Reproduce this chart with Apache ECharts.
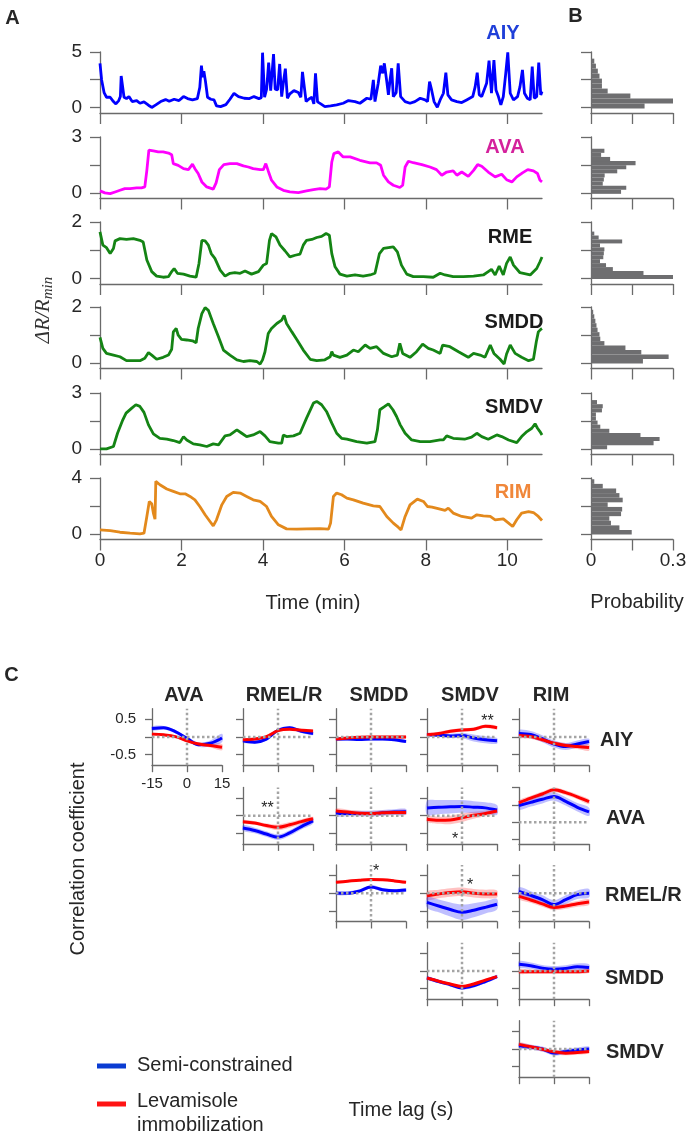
<!DOCTYPE html>
<html><head><meta charset="utf-8">
<script src="https://cdn.jsdelivr.net/npm/echarts@6/dist/echarts.min.js"></script>
<style>html,body{margin:0;padding:0;background:#fff}#c{width:693px;height:1135px}</style>
</head><body><div id="c"></div>
<script>
// ---------------- Panel A: calcium traces [time (min), ΔR/Rmin] ----------------
const traceAIY = [[0.00,3.98],[0.04,2.48],[0.10,1.34],[0.16,0.92],[0.25,0.92],[0.33,0.53],[0.39,0.32],[0.46,0.62],[0.50,0.98],[0.52,2.84],[0.56,2.72],[0.59,0.92],[0.65,0.80],[0.71,0.98],[0.79,0.53],[0.90,0.62],[0.98,0.38],[1.08,0.50],[1.19,0.20],[1.27,0.00],[1.37,0.23],[1.49,0.53],[1.61,0.71],[1.70,0.56],[1.82,0.74],[1.94,0.62],[2.05,0.98],[2.15,0.80],[2.27,0.68],[2.39,0.80],[2.45,1.82],[2.49,3.77],[2.52,2.72],[2.55,3.26],[2.59,2.33],[2.64,0.92],[2.72,0.74],[2.80,0.68],[2.86,0.14],[2.96,0.08],[3.09,0.26],[3.19,0.74],[3.29,1.28],[3.40,0.98],[3.54,0.83],[3.67,0.80],[3.78,0.98],[3.90,0.80],[3.96,0.89],[3.99,4.94],[4.04,0.92],[4.09,1.64],[4.14,4.04],[4.19,1.52],[4.26,4.82],[4.30,1.64],[4.36,1.58],[4.41,3.92],[4.46,0.98],[4.51,2.48],[4.55,3.50],[4.60,0.83],[4.66,1.22],[4.76,1.52],[4.87,1.34],[4.93,0.92],[4.97,3.20],[5.01,3.08],[5.06,0.53],[5.12,0.74],[5.20,0.92],[5.25,0.32],[5.29,3.08],[5.34,0.50],[5.42,0.32],[5.52,0.08],[5.66,0.14],[5.81,0.23],[5.97,0.38],[6.10,0.62],[6.26,0.53],[6.38,0.38],[6.55,0.83],[6.65,0.74],[6.71,2.48],[6.75,0.53],[6.83,2.18],[6.89,3.77],[6.94,3.08],[6.98,3.98],[7.04,2.33],[7.08,1.13],[7.12,2.48],[7.16,3.53],[7.20,0.98],[7.27,1.34],[7.32,3.98],[7.38,0.98],[7.49,0.53],[7.61,0.38],[7.73,0.53],[7.86,0.83],[7.98,0.68],[8.04,0.53],[8.09,2.33],[8.14,1.58],[8.20,0.53],[8.28,0.02],[8.35,0.68],[8.43,1.28],[8.49,3.14],[8.54,1.13],[8.63,0.68],[8.76,0.53],[8.88,0.44],[9.00,0.68],[9.15,0.98],[9.21,1.88],[9.26,3.14],[9.31,1.13],[9.37,0.98],[9.49,2.18],[9.55,4.22],[9.61,1.28],[9.67,4.28],[9.72,1.58],[9.78,0.98],[9.84,0.23],[9.90,0.98],[9.96,3.08],[10.01,4.97],[10.07,1.28],[10.15,0.68],[10.25,0.98],[10.31,1.88],[10.37,3.38],[10.42,1.28],[10.49,0.83],[10.56,0.68],[10.61,3.68],[10.66,0.83],[10.72,0.98],[10.77,4.04],[10.82,1.13],[10.85,1.43]];
const traceAVA = [[0.00,0.11],[0.12,0.00],[0.25,-0.04],[0.37,0.05],[0.49,0.14],[0.61,0.23],[0.74,0.23],[0.90,0.27],[1.02,0.27],[1.10,0.32],[1.15,1.21],[1.20,2.29],[1.31,2.25],[1.43,2.20],[1.55,2.20],[1.68,2.14],[1.76,2.05],[1.80,1.57],[1.92,1.48],[2.05,1.30],[2.17,1.25],[2.27,1.54],[2.33,1.30],[2.41,1.04],[2.50,0.59],[2.62,0.32],[2.78,0.20],[2.85,0.54],[2.93,1.25],[3.04,1.52],[3.19,1.57],[3.36,1.57],[3.52,1.45],[3.64,1.39],[3.76,1.30],[3.93,1.25],[4.01,1.25],[4.07,1.57],[4.13,1.18],[4.21,0.68],[4.34,0.32],[4.50,0.14],[4.66,0.05],[4.87,0.02],[5.07,0.11],[5.24,0.18],[5.40,0.23],[5.55,0.20],[5.63,0.32],[5.69,1.66],[5.74,2.11],[5.85,2.20],[5.97,1.93],[6.14,1.93],[6.38,1.75],[6.63,1.61],[6.79,1.61],[6.89,1.48],[6.96,0.95],[7.08,0.59],[7.20,0.41],[7.36,0.29],[7.43,0.41],[7.49,1.39],[7.57,1.70],[7.69,1.62],[7.90,1.52],[8.10,1.39],[8.26,1.25],[8.39,0.95],[8.51,1.12],[8.67,1.18],[8.76,0.95],[8.88,1.12],[9.04,0.89],[9.17,1.21],[9.27,1.52],[9.37,1.43],[9.53,1.12],[9.70,0.86],[9.86,1.00],[9.98,0.71],[10.11,0.59],[10.23,0.86],[10.38,1.09],[10.50,1.25],[10.64,1.18],[10.74,1.04],[10.80,0.68],[10.85,0.59]];
const traceRME = [[0.00,1.65],[0.07,1.18],[0.16,1.09],[0.25,0.88],[0.33,1.06],[0.37,1.33],[0.49,1.41],[0.65,1.38],[0.82,1.41],[0.98,1.35],[1.06,1.29],[1.15,0.65],[1.27,0.24],[1.39,0.08],[1.55,0.04],[1.68,0.06],[1.76,0.24],[1.82,0.35],[1.90,0.18],[2.05,0.15],[2.21,0.08],[2.36,0.04],[2.43,0.53],[2.50,1.35],[2.58,1.33],[2.66,1.18],[2.73,0.88],[2.82,0.71],[2.95,0.29],[3.07,0.08],[3.19,0.18],[3.31,0.20],[3.44,0.18],[3.56,0.26],[3.72,0.15],[3.89,0.24],[4.01,0.47],[4.09,0.53],[4.16,1.35],[4.21,1.59],[4.32,1.47],[4.42,1.18],[4.54,0.98],[4.66,0.76],[4.79,0.82],[4.91,0.86],[4.99,1.18],[5.07,1.35],[5.20,1.38],[5.32,1.45],[5.44,1.49],[5.55,1.59],[5.63,1.53],[5.69,0.88],[5.77,0.41],[5.89,0.15],[6.06,0.08],[6.26,0.12],[6.46,0.08],[6.63,0.12],[6.75,0.18],[6.86,0.88],[6.96,1.06],[7.08,1.09],[7.20,1.12],[7.30,0.94],[7.40,0.47],[7.53,0.15],[7.69,0.06],[7.94,0.06],[8.18,0.04],[8.35,0.18],[8.47,0.12],[8.67,0.06],[8.92,0.06],[9.17,0.08],[9.41,0.12],[9.53,0.24],[9.61,0.32],[9.70,0.12],[9.80,0.44],[9.90,0.12],[9.98,0.53],[10.07,0.76],[10.15,0.47],[10.31,0.20],[10.56,0.12],[10.72,0.35],[10.80,0.59],[10.85,0.76]];
const traceSMDD = [[0.00,0.91],[0.07,0.52],[0.16,0.34],[0.33,0.28],[0.49,0.22],[0.65,0.08],[0.82,0.08],[0.98,0.08],[1.10,0.17],[1.19,0.37],[1.27,0.28],[1.39,0.13],[1.55,0.20],[1.68,0.28],[1.76,0.49],[1.80,1.11],[1.87,1.23],[1.92,0.99],[2.00,0.84],[2.13,0.82],[2.27,0.79],[2.36,0.72],[2.41,1.23],[2.50,1.76],[2.58,1.98],[2.66,1.88],[2.78,1.41],[2.91,0.93],[3.03,0.46],[3.19,0.28],[3.36,0.11],[3.52,0.05],[3.68,0.08],[3.85,0.05],[3.93,-0.04],[3.99,0.11],[4.05,0.40],[4.13,1.05],[4.21,1.23],[4.34,1.41],[4.46,1.53],[4.52,1.70],[4.58,1.41],[4.71,1.11],[4.83,0.84],[4.99,0.46],[5.16,0.13],[5.32,0.08],[5.52,0.11],[5.65,0.22],[5.69,0.40],[5.73,0.28],[5.89,0.20],[6.06,0.28],[6.22,0.46],[6.34,0.40],[6.51,0.64],[6.63,0.52],[6.79,0.58],[6.96,0.34],[7.16,0.22],[7.30,0.28],[7.36,0.70],[7.43,0.34],[7.61,0.20],[7.77,0.40],[7.92,0.67],[8.06,0.52],[8.18,0.46],[8.35,0.34],[8.41,0.64],[8.59,0.58],[8.80,0.40],[9.04,0.20],[9.17,0.34],[9.33,0.28],[9.45,0.20],[9.58,0.64],[9.67,0.34],[9.82,0.13],[9.92,-0.04],[9.98,0.32],[10.07,0.64],[10.19,0.34],[10.35,0.20],[10.52,0.08],[10.64,0.13],[10.71,0.76],[10.76,1.11],[10.82,1.20],[10.85,1.23]];
const traceSMDV = [[0.00,0.00],[0.16,0.00],[0.33,0.13],[0.43,0.84],[0.56,1.56],[0.64,1.92],[0.78,2.19],[0.88,2.37],[0.98,2.28],[1.08,1.96],[1.19,1.29],[1.31,0.81],[1.47,0.57],[1.64,0.52],[1.80,0.45],[1.96,0.34],[2.05,0.66],[2.13,0.48],[2.29,0.27],[2.45,0.22],[2.62,0.13],[2.78,0.27],[2.91,0.22],[3.07,0.70],[3.19,0.75],[3.36,1.02],[3.48,0.84],[3.60,0.66],[3.76,0.75],[3.93,0.93],[4.05,0.70],[4.17,0.39],[4.38,0.31],[4.46,0.31],[4.50,0.75],[4.58,0.66],[4.75,0.70],[4.91,0.84],[5.07,1.65],[5.24,2.46],[5.32,2.55],[5.44,2.37],[5.56,2.01],[5.69,1.38],[5.81,0.84],[5.93,0.57],[6.06,0.52],[6.30,0.39],[6.55,0.31],[6.75,0.39],[6.81,1.02],[6.87,2.10],[6.99,2.28],[7.08,2.42],[7.19,2.10],[7.28,1.74],[7.37,1.29],[7.49,0.84],[7.65,0.48],[7.86,0.39],[8.10,0.39],[8.35,0.48],[8.43,0.48],[8.51,0.70],[8.67,0.57],[8.95,0.52],[9.12,0.63],[9.25,0.84],[9.37,0.66],[9.53,0.52],[9.74,0.75],[9.86,0.66],[10.03,0.48],[10.23,0.34],[10.35,0.66],[10.48,0.93],[10.60,1.11],[10.68,1.35],[10.74,1.11],[10.80,0.93],[10.85,0.75]];
const traceRIM = [[0.00,0.29],[0.25,0.24],[0.49,0.12],[0.74,0.05],[0.98,0.00],[1.08,0.05],[1.15,1.25],[1.21,2.32],[1.27,2.16],[1.31,1.49],[1.35,1.05],[1.37,3.76],[1.47,3.52],[1.64,3.21],[1.80,3.04],[1.96,2.87],[2.09,2.87],[2.21,2.68],[2.33,2.44],[2.45,1.96],[2.58,1.37],[2.70,0.89],[2.78,0.57],[2.86,1.01],[2.99,2.08],[3.11,2.68],[3.27,2.97],[3.44,2.92],[3.60,2.68],[3.76,2.44],[3.93,2.32],[4.09,1.96],[4.21,1.25],[4.38,0.65],[4.58,0.36],[4.83,0.34],[5.07,0.36],[5.40,0.38],[5.61,0.34],[5.66,0.77],[5.73,2.68],[5.81,2.92],[5.93,2.80],[6.06,2.56],[6.22,2.44],[6.46,2.20],[6.71,2.01],[6.87,1.96],[7.04,1.25],[7.20,0.77],[7.32,0.48],[7.39,0.29],[7.49,1.25],[7.61,2.08],[7.79,2.49],[7.94,2.32],[8.04,1.96],[8.15,1.92],[8.35,1.77],[8.47,1.68],[8.55,1.84],[8.67,1.49],[8.88,1.25],[9.12,1.13],[9.25,1.37],[9.41,1.29],[9.58,1.25],[9.70,1.01],[9.90,1.08],[10.03,0.77],[10.13,0.53],[10.23,1.01],[10.35,1.49],[10.52,1.60],[10.64,1.53],[10.76,1.25],[10.85,0.96]];
const timeTicks = [0, 2, 4, 6, 8, 10];

// ---------------- Panel B: histograms (bin edges, probabilities) ----------------
const histEdgesAIY = [-0.1, 0.35, 0.8, 1.25, 1.7, 2.15, 2.6, 3.05, 3.5, 3.95, 4.4];
const histProbAIY  = [0.196, 0.30, 0.144, 0.061, 0.04, 0.04, 0.031, 0.025, 0.018, 0.012];
const histEdgesAVA = [-0.05, 0.17, 0.39, 0.61, 0.83, 1.05, 1.27, 1.49, 1.71, 1.93, 2.15, 2.37];
const histProbAVA  = [0.110, 0.129, 0.043, 0.047, 0.050, 0.096, 0.129, 0.163, 0.070, 0.037, 0.049];
const histEdgesRME = [-0.02, 0.12, 0.26, 0.40, 0.54, 0.68, 0.82, 0.96, 1.10, 1.24, 1.38, 1.52, 1.66];
const histProbRME  = [0.30, 0.192, 0.080, 0.055, 0.033, 0.045, 0.047, 0.049, 0.033, 0.114, 0.028, 0.012];
const histEdgesSMDD = [-0.02, 0.14, 0.30, 0.46, 0.62, 0.78, 0.94, 1.10, 1.26, 1.42, 1.58, 1.74, 1.90];
const histProbSMDD  = [0.190, 0.284, 0.184, 0.126, 0.049, 0.034, 0.031, 0.024, 0.020, 0.016, 0.012, 0.008];
const histEdgesSMDV = [-0.02, 0.20, 0.42, 0.64, 0.86, 1.08, 1.30, 1.52, 1.74, 1.96, 2.18, 2.40, 2.62];
const histProbSMDV  = [0.059, 0.229, 0.251, 0.181, 0.067, 0.034, 0.024, 0.018, 0.018, 0.040, 0.043, 0.022];
const histEdgesRIM = [-0.05, 0.28, 0.61, 0.94, 1.27, 1.60, 1.93, 2.26, 2.59, 2.92, 3.25, 3.58, 3.91];
const histProbRIM  = [0.149, 0.104, 0.073, 0.067, 0.110, 0.114, 0.061, 0.116, 0.104, 0.092, 0.043, 0.012];
const probTicks = [0, 0.15, 0.3];
const probLabels = [0, 0.3];

// ---------------- Panel C: cross-correlations vs time lag ----------------
const lags = [-15, -10, -5, 0, 5, 10, 15];
const lagTicks = [-15, 0, 15];
const colNames = ['AVA', 'RMEL/R', 'SMDD', 'SMDV', 'RIM'];
const rowNames = ['AIY', 'AVA', 'RMEL/R', 'SMDD', 'SMDV'];

const aiyAvaSemi = [0.24, 0.26, 0.15, -0.04, -0.22, -0.18, -0.03];
const aiyAvaSemiErr = [0.06, 0.05, 0.05, 0.05, 0.06, 0.08, 0.12];
const aiyAvaLev = [0.08, 0.06, 0.01, -0.11, -0.20, -0.24, -0.29];
const aiyAvaLevErr = [0.04, 0.03, 0.03, 0.04, 0.05, 0.06, 0.09];

const aiyRmeSemi = [-0.11, -0.15, -0.06, 0.19, 0.26, 0.16, 0.10];
const aiyRmeSemiErr = [0.05, 0.05, 0.05, 0.05, 0.05, 0.05, 0.05];
const aiyRmeLev = [-0.08, -0.06, 0.01, 0.18, 0.22, 0.19, 0.17];
const aiyRmeLevErr = [0.04, 0.04, 0.04, 0.04, 0.04, 0.04, 0.04];

const aiySmddSemi = [-0.06, -0.06, -0.07, -0.06, -0.06, -0.08, -0.13];
const aiySmddSemiErr = [0.04, 0.04, 0.04, 0.04, 0.04, 0.04, 0.04];
const aiySmddLev = [-0.06, -0.03, -0.01, 0.0, 0.0, 0.0, 0.0];
const aiySmddLevErr = [0.04, 0.04, 0.04, 0.04, 0.04, 0.04, 0.04];

const aiySmdvSemi = [0.06, 0.05, 0.03, 0.04, -0.03, -0.08, -0.11];
const aiySmdvSemiErr = [0.04, 0.05, 0.06, 0.08, 0.10, 0.10, 0.08];
const aiySmdvLev = [0.06, 0.10, 0.16, 0.20, 0.22, 0.30, 0.26];
const aiySmdvLevErr = [0.05, 0.05, 0.05, 0.05, 0.05, 0.05, 0.05];

const aiyRimSemi = [0.10, 0.07, -0.05, -0.20, -0.27, -0.20, -0.13];
const aiyRimSemiErr = [0.10, 0.10, 0.10, 0.10, 0.10, 0.10, 0.08];
const aiyRimLev = [0.04, 0.01, -0.08, -0.18, -0.24, -0.27, -0.30];
const aiyRimLevErr = [0.06, 0.06, 0.06, 0.06, 0.07, 0.07, 0.09];

const avaRmeSemi = [-0.35, -0.42, -0.52, -0.61, -0.49, -0.31, -0.15];
const avaRmeSemiErr = [0.08, 0.08, 0.08, 0.08, 0.08, 0.08, 0.08];
const avaRmeLev = [-0.17, -0.21, -0.28, -0.33, -0.26, -0.17, -0.09];
const avaRmeLevErr = [0.05, 0.05, 0.06, 0.08, 0.08, 0.07, 0.06];

const avaSmddSemi = [0.06, 0.06, 0.06, 0.06, 0.08, 0.10, 0.11];
const avaSmddSemiErr = [0.08, 0.08, 0.08, 0.08, 0.08, 0.08, 0.08];
const avaSmddLev = [0.13, 0.10, 0.07, 0.06, 0.08, 0.09, 0.09];
const avaSmddLevErr = [0.07, 0.07, 0.07, 0.07, 0.07, 0.07, 0.07];

const avaSmdvSemi = [0.22, 0.24, 0.25, 0.26, 0.24, 0.22, 0.16];
const avaSmdvSemiErr = [0.20, 0.20, 0.19, 0.18, 0.17, 0.16, 0.14];
const avaSmdvLev = [-0.10, -0.13, -0.12, -0.06, 0.01, 0.06, 0.13];
const avaSmdvLevErr = [0.08, 0.10, 0.12, 0.12, 0.10, 0.08, 0.06];

const avaRimSemi = [0.48, 0.57, 0.66, 0.74, 0.60, 0.43, 0.30];
const avaRimSemiErr = [0.12, 0.12, 0.12, 0.12, 0.12, 0.12, 0.12];
const avaRimLev = [0.56, 0.69, 0.81, 0.93, 0.85, 0.73, 0.59];
const avaRimLevErr = [0.07, 0.07, 0.07, 0.07, 0.07, 0.07, 0.07];

const rmeSmddSemi = [0.0, 0.0, 0.06, 0.18, 0.10, 0.07, 0.09];
const rmeSmddSemiErr = [0.05, 0.05, 0.05, 0.05, 0.05, 0.05, 0.05];
const rmeSmddLev = [0.31, 0.34, 0.37, 0.39, 0.38, 0.35, 0.31];
const rmeSmddLevErr = [0.03, 0.03, 0.03, 0.03, 0.03, 0.03, 0.03];

const rmeSmdvSemi = [-0.26, -0.36, -0.46, -0.54, -0.48, -0.40, -0.31];
const rmeSmdvSemiErr = [0.15, 0.18, 0.20, 0.22, 0.20, 0.17, 0.15];
const rmeSmdvLev = [-0.07, -0.02, 0.02, 0.04, 0.00, -0.02, -0.02];
const rmeSmdvLevErr = [0.12, 0.12, 0.12, 0.12, 0.12, 0.12, 0.10];

const rmeRimSemi = [0.05, -0.06, -0.18, -0.32, -0.18, -0.04, 0.0];
const rmeRimSemiErr = [0.12, 0.12, 0.12, 0.12, 0.12, 0.12, 0.12];
const rmeRimLev = [-0.09, -0.19, -0.30, -0.40, -0.36, -0.30, -0.25];
const rmeRimLevErr = [0.08, 0.08, 0.08, 0.08, 0.08, 0.08, 0.08];

const smddSmdvSemi = [-0.20, -0.30, -0.39, -0.48, -0.42, -0.30, -0.16];
const smddSmdvSemiErr = [0.05, 0.05, 0.05, 0.05, 0.05, 0.05, 0.05];
const smddSmdvLev = [-0.20, -0.29, -0.37, -0.44, -0.37, -0.26, -0.16];
const smddSmdvLevErr = [0.03, 0.03, 0.03, 0.03, 0.03, 0.03, 0.03];

const smddRimSemi = [0.19, 0.15, 0.08, 0.05, 0.07, 0.12, 0.10];
const smddRimSemiErr = [0.09, 0.09, 0.09, 0.09, 0.09, 0.09, 0.09];
const smddRimLev = [-0.02, -0.02, -0.02, -0.02, -0.02, -0.02, 0.0];
const smddRimLevErr = [0.06, 0.06, 0.06, 0.06, 0.06, 0.06, 0.06];

const smdvRimSemi = [0.09, 0.05, 0.0, -0.12, -0.07, -0.03, 0.0];
const smdvRimSemiErr = [0.07, 0.07, 0.07, 0.07, 0.07, 0.07, 0.07];
const smdvRimLev = [0.13, 0.06, -0.01, -0.08, -0.12, -0.10, -0.07];
const smdvRimLevErr = [0.06, 0.06, 0.06, 0.06, 0.06, 0.06, 0.06];

// ---------------- build ----------------
const FONT = '"Liberation Sans", Arial, Helvetica, sans-serif';
const AXC = '#6a6a6a';
const TXT = '#262626';
const grid = [], xAxis = [], yAxis = [], series = [], graphic = [];

function valueAxis(o) {
  return {
    type: 'value', min: o.min, max: o.max,
    axisLine: { show: true, onZero: false, lineStyle: { color: AXC, width: 1.3 } },
    axisTick: { show: true, inside: false, length: o.tickLen, customValues: o.ticks, lineStyle: { color: AXC, width: 1.3 } },
    axisLabel: { show: o.labels.length > 0, customValues: o.labels, margin: o.margin, color: TXT,
      fontSize: o.size, fontFamily: FONT, formatter: v => String(v) },
    splitLine: { show: false }, splitArea: { show: false }
  };
}
function addPanel(box, xa, ya) {
  const gi = grid.length;
  grid.push({ left: box[0], top: box[1], width: box[2], height: box[3], containLabel: false, outerBoundsMode: 'none', show: false });
  xa.gridIndex = gi; ya.gridIndex = gi;
  xAxis.push(xa); yAxis.push(ya);
  return gi;
}
function txt(x, y, text, o) {
  o = o || {};
  graphic.push({ type: 'text', x: x, y: y, rotation: o.rot || 0, silent: true, z: 50,
    style: { text: text, fill: o.color || TXT,
      font: (o.bold ? 'bold ' : '') + (o.size || 20) + 'px ' + FONT,
      textAlign: o.align || 'center', textVerticalAlign: 'middle', rich: o.rich } });
}

// Panel A + B
const namesA = ['AIY', 'AVA', 'RME', 'SMDD', 'SMDV', 'RIM'];
const tracesA = [traceAIY, traceAVA, traceRME, traceSMDD, traceSMDV, traceRIM];
const histEdges = [histEdgesAIY, histEdgesAVA, histEdgesRME, histEdgesSMDD, histEdgesSMDV, histEdgesRIM];
const histProbs = [histProbAIY, histProbAVA, histProbRME, histProbSMDD, histProbSMDV, histProbRIM];
const yMinA = [-0.5, -0.3, -0.2, -0.2, -0.3, -0.4];
const yMaxA = [5, 3, 2, 2, 3, 4];
const yTicksA = [[0, 2.5, 5], [0, 1.5, 3], [0, 1, 2], [0, 1, 2], [0, 1.5, 3], [0, 2, 4]];
const yLabelsA = [[0, 5], [0, 3], [0, 2], [0, 2], [0, 3], [0, 4]];
const traceColors = ['#0000ff', '#ff00ff', '#148414', '#148414', '#148414', '#e3891c'];
const nameColors = ['#1f3fd9', '#d4219c', '#1a1a1a', '#1a1a1a', '#1a1a1a', '#f0873a'];
const topA = [52, 137, 222, 307, 393, 478];
const botA = [113, 198.5, 284, 368.5, 454.5, 539.5];
const nameX = [503, 505, 510, 514, 514, 513];
const nameY = [33, 147, 237, 322, 407, 492];

function renderBar(params, api) {
  const lo = api.coord([0, api.value(0)]);
  const hi = api.coord([api.value(2), api.value(1)]);
  return { type: 'rect', shape: { x: lo[0], y: hi[1], width: hi[0] - lo[0], height: lo[1] - hi[1] },
    style: { fill: '#6e6e70' } };
}

for (let i = 0; i < 6; i++) {
  const last = i === 5;
  let gi = addPanel([100, topA[i], 442, botA[i] - topA[i]],
    valueAxis({ min: 0, max: 10.85, ticks: timeTicks, labels: last ? timeTicks : [], tickLen: 11, size: 19, margin: 12 }),
    valueAxis({ min: yMinA[i], max: yMaxA[i], ticks: yTicksA[i], labels: yLabelsA[i], tickLen: 10, size: 19, margin: 18 }));
  series.push({ type: 'line', xAxisIndex: gi, yAxisIndex: gi, data: tracesA[i], showSymbol: false, symbol: 'none',
    lineStyle: { color: traceColors[i], width: 2.8 }, silent: true, z: 3 });
  txt(nameX[i], nameY[i], namesA[i], { bold: true, size: 20, color: nameColors[i] });

  gi = addPanel([591, topA[i], 82, botA[i] - topA[i]],
    valueAxis({ min: 0, max: 0.3, ticks: probTicks, labels: last ? probLabels : [], tickLen: 11, size: 19, margin: 12 }),
    valueAxis({ min: yMinA[i], max: yMaxA[i], ticks: yTicksA[i], labels: [], tickLen: 10, size: 19, margin: 18 }));
  const e = histEdges[i];
  series.push({ type: 'custom', xAxisIndex: gi, yAxisIndex: gi, silent: true, z: 2,
    data: histProbs[i].map((p, k) => [e[k], e[k + 1], p]),
    encode: { x: 2, y: [0, 1] }, renderItem: renderBar });
}

// Panel C
const panelsC = [
  { r: 0, c: 0, semi: aiyAvaSemi, semiErr: aiyAvaSemiErr, lev: aiyAvaLev, levErr: aiyAvaLevErr },
  { r: 0, c: 1, semi: aiyRmeSemi, semiErr: aiyRmeSemiErr, lev: aiyRmeLev, levErr: aiyRmeLevErr },
  { r: 0, c: 2, semi: aiySmddSemi, semiErr: aiySmddSemiErr, lev: aiySmddLev, levErr: aiySmddLevErr },
  { r: 0, c: 3, semi: aiySmdvSemi, semiErr: aiySmdvSemiErr, lev: aiySmdvLev, levErr: aiySmdvLevErr },
  { r: 0, c: 4, semi: aiyRimSemi, semiErr: aiyRimSemiErr, lev: aiyRimLev, levErr: aiyRimLevErr },
  { r: 1, c: 1, semi: avaRmeSemi, semiErr: avaRmeSemiErr, lev: avaRmeLev, levErr: avaRmeLevErr },
  { r: 1, c: 2, semi: avaSmddSemi, semiErr: avaSmddSemiErr, lev: avaSmddLev, levErr: avaSmddLevErr },
  { r: 1, c: 3, semi: avaSmdvSemi, semiErr: avaSmdvSemiErr, lev: avaSmdvLev, levErr: avaSmdvLevErr },
  { r: 1, c: 4, semi: avaRimSemi, semiErr: avaRimSemiErr, lev: avaRimLev, levErr: avaRimLevErr, ymin: -0.62, ymax: 1.0, yticks: [-0.5, 0, 0.5, 1] },
  { r: 2, c: 2, semi: rmeSmddSemi, semiErr: rmeSmddSemiErr, lev: rmeSmddLev, levErr: rmeSmddLevErr },
  { r: 2, c: 3, semi: rmeSmdvSemi, semiErr: rmeSmdvSemiErr, lev: rmeSmdvLev, levErr: rmeSmdvLevErr },
  { r: 2, c: 4, semi: rmeRimSemi, semiErr: rmeRimSemiErr, lev: rmeRimLev, levErr: rmeRimLevErr },
  { r: 3, c: 3, semi: smddSmdvSemi, semiErr: smddSmdvSemiErr, lev: smddSmdvLev, levErr: smddSmdvLevErr },
  { r: 3, c: 4, semi: smddRimSemi, semiErr: smddRimSemiErr, lev: smddRimLev, levErr: smddRimLevErr },
  { r: 4, c: 4, semi: smdvRimSemi, semiErr: smdvRimSemiErr, lev: smdvRimLev, levErr: smdvRimLevErr }
];
const colLeftC = [152, 243, 336, 427, 519];
const rowTopC = [708.7, 787.4, 865, 942.7, 1020.7];
const WC = 70, HC = 56.5;

// shaded mean ± error band, drawn through the axes' own scales
function band(gi, mean, err, color) {
  series.push({ type: 'custom', xAxisIndex: gi, yAxisIndex: gi, silent: true, z: 2,
    data: lags.map((l, k) => [l, mean[k] - err[k], mean[k] + err[k]]),
    encode: { x: 0, y: [1, 2] },
    renderItem: function (params, api) {
      if (params.dataIndex !== 0) return { type: 'group', children: [] };
      const up = lags.map((l, k) => api.coord([l, mean[k] + err[k]]));
      const lo = lags.map((l, k) => api.coord([l, mean[k] - err[k]])).reverse();
      return { type: 'polygon', shape: { points: up.concat(lo), smooth: 0.3 }, style: { fill: color } };
    } });
}
panelsC.forEach((p, n) => {
  const first = n === 0;
  const ymin = p.ymin !== undefined ? p.ymin : -0.8;
  const ymax = p.ymax !== undefined ? p.ymax : 0.8;
  const gi = addPanel([colLeftC[p.c], rowTopC[p.r], WC, HC],
    valueAxis({ min: -15, max: 15, ticks: lagTicks, labels: first ? lagTicks : [], tickLen: 7, size: 15, margin: 11 }),
    valueAxis({ min: ymin, max: ymax, ticks: p.yticks || [-0.5, 0, 0.5], labels: first ? [-0.5, 0.5] : [], tickLen: 7, size: 15, margin: 16 }));
  band(gi, p.lev, p.levErr, 'rgba(255,70,70,0.33)');
  band(gi, p.semi, p.semiErr, 'rgba(60,60,255,0.33)');
  series.push({ type: 'line', xAxisIndex: gi, yAxisIndex: gi, data: lags.map((l, k) => [l, p.semi[k]]),
    smooth: 0.35, symbol: 'none', showSymbol: false, silent: true, z: 3, lineStyle: { color: '#0000ff', width: 3 } });
  series.push({ type: 'line', xAxisIndex: gi, yAxisIndex: gi, data: lags.map((l, k) => [l, p.lev[k]]),
    smooth: 0.35, symbol: 'none', showSymbol: false, silent: true, z: 3, lineStyle: { color: '#ff0000', width: 3 } });
  const dot = { color: '#a4a4a4', width: 2.5, type: [2.5, 2.5] };
  series.push({ type: 'line', xAxisIndex: gi, yAxisIndex: gi, data: [[-15, 0], [15, 0]], symbol: 'none', silent: true, z: 4, lineStyle: dot });
  series.push({ type: 'line', xAxisIndex: gi, yAxisIndex: gi, data: [[0, ymin], [0, ymax]], symbol: 'none', silent: true, z: 4, lineStyle: dot });
});

// Text
txt(12.5, 18, 'A', { bold: true, size: 20 });
txt(575.5, 16, 'B', { bold: true, size: 20 });
txt(11.5, 675.5, 'C', { bold: true, size: 20 });
txt(313, 603, 'Time (min)', { size: 20 });
txt(637, 602, 'Probability', { size: 20 });
txt(43, 310, '{a|ΔR/R}{b|min}', { rot: Math.PI / 2, rich: {
  a: { fontFamily: '"Liberation Serif", "DejaVu Serif", serif', fontStyle: 'italic', fontSize: 21, fill: '#333' },
  b: { fontFamily: '"Liberation Serif", "DejaVu Serif", serif', fontStyle: 'italic', fontSize: 15, fill: '#333', padding: [10, 0, 0, 0] } } });
const headerX = [184, 284, 379, 470, 551];
colNames.forEach((nm, k) => txt(headerX[k], 695.5, nm, { bold: true, size: 20 }));
const rowLabelX = [600, 606, 605, 605, 606];
const rowLabelY = [740, 818, 895, 978, 1052];
rowNames.forEach((nm, k) => txt(rowLabelX[k], rowLabelY[k], nm, { bold: true, size: 20, align: 'left' }));
txt(78, 859, 'Correlation coefficient', { rot: Math.PI / 2, size: 20 });
txt(401, 1110, 'Time lag (s)', { size: 20 });
// significance stars
txt(487.5, 721.5, '**', { size: 16 });
txt(267.5, 809, '**', { size: 16 });
txt(455, 839.5, '*', { size: 16 });
txt(376, 871.5, '*', { size: 16 });
txt(470, 885.5, '*', { size: 16 });
// legend
graphic.push({ type: 'line', silent: true, shape: { x1: 97, y1: 1066, x2: 126, y2: 1066 }, style: { stroke: '#0a3cd2', lineWidth: 5 } });
graphic.push({ type: 'line', silent: true, shape: { x1: 97, y1: 1104, x2: 126, y2: 1104 }, style: { stroke: '#ff1414', lineWidth: 5 } });
txt(137, 1065, 'Semi-constrained', { size: 20, align: 'left' });
txt(137, 1101, 'Levamisole', { size: 20, align: 'left' });
txt(137, 1125, 'immobilization', { size: 20, align: 'left' });

const chart = echarts.init(document.getElementById('c'), null, { renderer: 'canvas', width: 693, height: 1135 });
chart.setOption({ animation: false, backgroundColor: '#ffffff', grid, xAxis, yAxis, series, graphic });
</script></body></html>
